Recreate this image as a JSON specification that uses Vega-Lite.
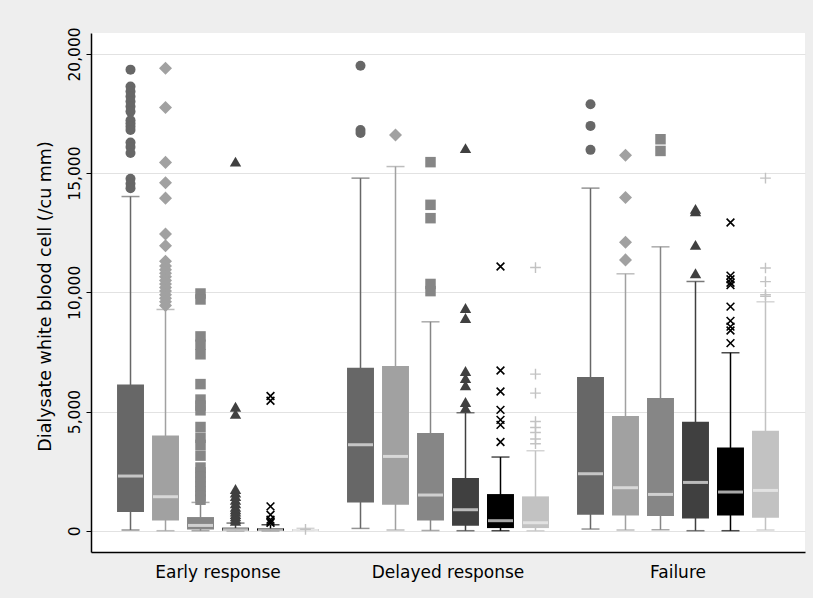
{
  "$schema": "https://vega.github.io/schema/vega-lite/v6.json",
  "width": 714,
  "height": 519,
  "autosize": {"type": "none"},
  "padding": {"left": 91, "top": 33, "right": 8, "bottom": 46},
  "background": "#eeeeee",
  "config": {
    "view": {"fill": "white", "stroke": null},
    "font": "DejaVu Sans",
    "axisY": {
      "labelAngle": -90,
      "labelAlign": "center",
      "labelBaseline": "bottom",
      "labelFontSize": 15.5,
      "labelColor": "black",
      "labelPadding": 4,
      "tickColor": "black",
      "tickSize": 5,
      "tickWidth": 1,
      "domainColor": "black",
      "domainWidth": 1.5,
      "gridColor": "#e2e2e2",
      "gridWidth": 1.2,
      "titleFontSize": 17.5,
      "titleFontWeight": "normal",
      "titleColor": "black",
      "titlePadding": 13,
      "titleY": 263
    }
  },
  "datasets": {
    "boxes": [
      {"group": "Early response", "series": "Day 1", "lower": 30, "q1": 784, "median": 2293, "q3": 6134, "upper": 14017},
      {"group": "Early response", "series": "Day 2", "lower": 0, "q1": 432, "median": 1426, "q3": 3997, "upper": 9280},
      {"group": "Early response", "series": "Day 3", "lower": 0, "q1": 50, "median": 222, "q3": 573, "upper": 1187},
      {"group": "Early response", "series": "Day 4", "lower": 0, "q1": 0, "median": 40, "q3": 130, "upper": 320},
      {"group": "Early response", "series": "Day 5", "lower": 0, "q1": 0, "median": 30, "q3": 100, "upper": 250},
      {"group": "Early response", "series": "Day 6", "lower": 0, "q1": 0, "median": 10, "q3": 60, "upper": 100},
      {"group": "Delayed response", "series": "Day 1", "lower": 96, "q1": 1187, "median": 3606, "q3": 6835, "upper": 14789},
      {"group": "Delayed response", "series": "Day 2", "lower": 30, "q1": 1090, "median": 3116, "q3": 6906, "upper": 15275},
      {"group": "Delayed response", "series": "Day 3", "lower": 10, "q1": 433, "median": 1497, "q3": 4095, "upper": 8763},
      {"group": "Delayed response", "series": "Day 4", "lower": 0, "q1": 210, "median": 880, "q3": 2210, "upper": 4948},
      {"group": "Delayed response", "series": "Day 5", "lower": 0, "q1": 110, "median": 420, "q3": 1537, "upper": 3090},
      {"group": "Delayed response", "series": "Day 6", "lower": 0, "q1": 110, "median": 335, "q3": 1440, "upper": 3354},
      {"group": "Failure", "series": "Day 1", "lower": 70, "q1": 671, "median": 2390, "q3": 6445, "upper": 14370},
      {"group": "Failure", "series": "Day 2", "lower": 30, "q1": 642, "median": 1803, "q3": 4809, "upper": 10776},
      {"group": "Failure", "series": "Day 3", "lower": 40, "q1": 616, "median": 1522, "q3": 5564, "upper": 11908},
      {"group": "Failure", "series": "Day 4", "lower": 0, "q1": 516, "median": 2025, "q3": 4570, "upper": 10454},
      {"group": "Failure", "series": "Day 5", "lower": 0, "q1": 642, "median": 1623, "q3": 3493, "upper": 7464},
      {"group": "Failure", "series": "Day 6", "lower": 30, "q1": 545, "median": 1690, "q3": 4193, "upper": 9602}
    ],
    "outliers": [
      {"group": "Early response", "series": "Day 1", "value": 19340},
      {"group": "Early response", "series": "Day 1", "value": 18630},
      {"group": "Early response", "series": "Day 1", "value": 18420},
      {"group": "Early response", "series": "Day 1", "value": 18210},
      {"group": "Early response", "series": "Day 1", "value": 18000},
      {"group": "Early response", "series": "Day 1", "value": 17790},
      {"group": "Early response", "series": "Day 1", "value": 17580},
      {"group": "Early response", "series": "Day 1", "value": 17220},
      {"group": "Early response", "series": "Day 1", "value": 17080},
      {"group": "Early response", "series": "Day 1", "value": 16940},
      {"group": "Early response", "series": "Day 1", "value": 16810},
      {"group": "Early response", "series": "Day 1", "value": 16280},
      {"group": "Early response", "series": "Day 1", "value": 16090},
      {"group": "Early response", "series": "Day 1", "value": 15840},
      {"group": "Early response", "series": "Day 1", "value": 14760},
      {"group": "Early response", "series": "Day 1", "value": 14550},
      {"group": "Early response", "series": "Day 1", "value": 14370},
      {"group": "Early response", "series": "Day 2", "value": 19400},
      {"group": "Early response", "series": "Day 2", "value": 17750},
      {"group": "Early response", "series": "Day 2", "value": 15450},
      {"group": "Early response", "series": "Day 2", "value": 14600},
      {"group": "Early response", "series": "Day 2", "value": 13950},
      {"group": "Early response", "series": "Day 2", "value": 12450},
      {"group": "Early response", "series": "Day 2", "value": 11950},
      {"group": "Early response", "series": "Day 2", "value": 11300},
      {"group": "Early response", "series": "Day 2", "value": 11100},
      {"group": "Early response", "series": "Day 2", "value": 10950},
      {"group": "Early response", "series": "Day 2", "value": 10800},
      {"group": "Early response", "series": "Day 2", "value": 10650},
      {"group": "Early response", "series": "Day 2", "value": 10500},
      {"group": "Early response", "series": "Day 2", "value": 10350},
      {"group": "Early response", "series": "Day 2", "value": 10200},
      {"group": "Early response", "series": "Day 2", "value": 10050},
      {"group": "Early response", "series": "Day 2", "value": 9900},
      {"group": "Early response", "series": "Day 2", "value": 9750},
      {"group": "Early response", "series": "Day 2", "value": 9600},
      {"group": "Early response", "series": "Day 2", "value": 9450},
      {"group": "Early response", "series": "Day 3", "value": 9950},
      {"group": "Early response", "series": "Day 3", "value": 9700},
      {"group": "Early response", "series": "Day 3", "value": 8150},
      {"group": "Early response", "series": "Day 3", "value": 7800},
      {"group": "Early response", "series": "Day 3", "value": 7400},
      {"group": "Early response", "series": "Day 3", "value": 6150},
      {"group": "Early response", "series": "Day 3", "value": 5500},
      {"group": "Early response", "series": "Day 3", "value": 5250},
      {"group": "Early response", "series": "Day 3", "value": 5050},
      {"group": "Early response", "series": "Day 3", "value": 4350},
      {"group": "Early response", "series": "Day 3", "value": 3900},
      {"group": "Early response", "series": "Day 3", "value": 3600},
      {"group": "Early response", "series": "Day 3", "value": 3150},
      {"group": "Early response", "series": "Day 3", "value": 2650},
      {"group": "Early response", "series": "Day 3", "value": 2450},
      {"group": "Early response", "series": "Day 3", "value": 2250},
      {"group": "Early response", "series": "Day 3", "value": 2050},
      {"group": "Early response", "series": "Day 3", "value": 1850},
      {"group": "Early response", "series": "Day 3", "value": 1650},
      {"group": "Early response", "series": "Day 3", "value": 1450},
      {"group": "Early response", "series": "Day 3", "value": 1300},
      {"group": "Early response", "series": "Day 4", "value": 15480},
      {"group": "Early response", "series": "Day 4", "value": 5200},
      {"group": "Early response", "series": "Day 4", "value": 4900},
      {"group": "Early response", "series": "Day 4", "value": 1750},
      {"group": "Early response", "series": "Day 4", "value": 1600},
      {"group": "Early response", "series": "Day 4", "value": 1450},
      {"group": "Early response", "series": "Day 4", "value": 1300},
      {"group": "Early response", "series": "Day 4", "value": 1150},
      {"group": "Early response", "series": "Day 4", "value": 1000},
      {"group": "Early response", "series": "Day 4", "value": 900},
      {"group": "Early response", "series": "Day 4", "value": 800},
      {"group": "Early response", "series": "Day 4", "value": 700},
      {"group": "Early response", "series": "Day 4", "value": 600},
      {"group": "Early response", "series": "Day 4", "value": 500},
      {"group": "Early response", "series": "Day 4", "value": 420},
      {"group": "Early response", "series": "Day 5", "value": 5650},
      {"group": "Early response", "series": "Day 5", "value": 5450},
      {"group": "Early response", "series": "Day 5", "value": 1020},
      {"group": "Early response", "series": "Day 5", "value": 670},
      {"group": "Early response", "series": "Day 5", "value": 460},
      {"group": "Early response", "series": "Day 5", "value": 380},
      {"group": "Early response", "series": "Day 5", "value": 330},
      {"group": "Early response", "series": "Day 6", "value": 60},
      {"group": "Delayed response", "series": "Day 1", "value": 19500},
      {"group": "Delayed response", "series": "Day 1", "value": 16810},
      {"group": "Delayed response", "series": "Day 1", "value": 16680},
      {"group": "Delayed response", "series": "Day 2", "value": 16600},
      {"group": "Delayed response", "series": "Day 3", "value": 15460},
      {"group": "Delayed response", "series": "Day 3", "value": 13670},
      {"group": "Delayed response", "series": "Day 3", "value": 13110},
      {"group": "Delayed response", "series": "Day 3", "value": 10350},
      {"group": "Delayed response", "series": "Day 3", "value": 10050},
      {"group": "Delayed response", "series": "Day 4", "value": 16050},
      {"group": "Delayed response", "series": "Day 4", "value": 9340},
      {"group": "Delayed response", "series": "Day 4", "value": 8920},
      {"group": "Delayed response", "series": "Day 4", "value": 6700},
      {"group": "Delayed response", "series": "Day 4", "value": 6400},
      {"group": "Delayed response", "series": "Day 4", "value": 6100},
      {"group": "Delayed response", "series": "Day 4", "value": 5400},
      {"group": "Delayed response", "series": "Day 4", "value": 5150},
      {"group": "Delayed response", "series": "Day 5", "value": 11080},
      {"group": "Delayed response", "series": "Day 5", "value": 6720},
      {"group": "Delayed response", "series": "Day 5", "value": 5840},
      {"group": "Delayed response", "series": "Day 5", "value": 5070},
      {"group": "Delayed response", "series": "Day 5", "value": 4650},
      {"group": "Delayed response", "series": "Day 5", "value": 4440},
      {"group": "Delayed response", "series": "Day 5", "value": 3720},
      {"group": "Delayed response", "series": "Day 6", "value": 11040},
      {"group": "Delayed response", "series": "Day 6", "value": 6570},
      {"group": "Delayed response", "series": "Day 6", "value": 5770},
      {"group": "Delayed response", "series": "Day 6", "value": 4580},
      {"group": "Delayed response", "series": "Day 6", "value": 4330},
      {"group": "Delayed response", "series": "Day 6", "value": 4120},
      {"group": "Delayed response", "series": "Day 6", "value": 3850},
      {"group": "Delayed response", "series": "Day 6", "value": 3650},
      {"group": "Failure", "series": "Day 1", "value": 17890},
      {"group": "Failure", "series": "Day 1", "value": 16980},
      {"group": "Failure", "series": "Day 1", "value": 15975},
      {"group": "Failure", "series": "Day 2", "value": 15750},
      {"group": "Failure", "series": "Day 2", "value": 13980},
      {"group": "Failure", "series": "Day 2", "value": 12100},
      {"group": "Failure", "series": "Day 2", "value": 11360},
      {"group": "Failure", "series": "Day 3", "value": 16420},
      {"group": "Failure", "series": "Day 3", "value": 15930},
      {"group": "Failure", "series": "Day 4", "value": 13500},
      {"group": "Failure", "series": "Day 4", "value": 13400},
      {"group": "Failure", "series": "Day 4", "value": 11990},
      {"group": "Failure", "series": "Day 4", "value": 10800},
      {"group": "Failure", "series": "Day 5", "value": 12930},
      {"group": "Failure", "series": "Day 5", "value": 10700},
      {"group": "Failure", "series": "Day 5", "value": 10550},
      {"group": "Failure", "series": "Day 5", "value": 10400},
      {"group": "Failure", "series": "Day 5", "value": 10300},
      {"group": "Failure", "series": "Day 5", "value": 9400},
      {"group": "Failure", "series": "Day 5", "value": 8800},
      {"group": "Failure", "series": "Day 5", "value": 8560},
      {"group": "Failure", "series": "Day 5", "value": 8400},
      {"group": "Failure", "series": "Day 5", "value": 7870},
      {"group": "Failure", "series": "Day 6", "value": 14790},
      {"group": "Failure", "series": "Day 6", "value": 11020},
      {"group": "Failure", "series": "Day 6", "value": 10450},
      {"group": "Failure", "series": "Day 6", "value": 9900},
      {"group": "Failure", "series": "Day 6", "value": 9830}
    ]
  },
  "encoding": {
    "x": {
      "field": "group",
      "type": "nominal",
      "sort": ["Early response", "Delayed response", "Failure"],
      "scale": {"paddingInner": 0.087, "paddingOuter": 0.0957},
      "axis": {
        "title": null,
        "labelAngle": 0,
        "ticks": false,
        "labelFontSize": 17,
        "labelPadding": 12,
        "labelColor": "black",
        "domainColor": "black",
        "domainWidth": 1.5,
        "grid": false
      }
    },
    "xOffset": {
      "field": "series",
      "type": "nominal",
      "sort": ["Day 1", "Day 2", "Day 3", "Day 4", "Day 5", "Day 6"],
      "scale": {"paddingInner": 0.23, "paddingOuter": 0.115}
    },
    "color": {
      "field": "series",
      "type": "nominal",
      "scale": {
        "domain": ["Day 1", "Day 2", "Day 3", "Day 4", "Day 5", "Day 6"],
        "range": ["#676767", "#a1a1a1", "#868686", "#404040", "#000000", "#c2c2c2"]
      },
      "legend": null
    }
  },
  "layer": [
    {
      "data": {"name": "boxes"},
      "mark": {"type": "rule", "strokeWidth": 1.5},
      "encoding": {
        "y": {
          "field": "lower",
          "type": "quantitative",
          "title": "Dialysate white blood cell (/cu mm)",
          "scale": {"domain": [-893, 20877], "nice": false, "zero": false},
          "axis": {"values": [0, 5000, 10000, 15000, 20000], "format": ",d"}
        },
        "y2": {"field": "upper"}
      }
    },
    {
      "data": {"name": "boxes"},
      "mark": {"type": "tick", "size": 18, "thickness": 1.5},
      "encoding": {
        "y": {"field": "lower", "type": "quantitative", "title": "Dialysate white blood cell (/cu mm)"}
      }
    },
    {
      "data": {"name": "boxes"},
      "mark": {"type": "tick", "size": 18, "thickness": 1.5},
      "encoding": {
        "y": {"field": "upper", "type": "quantitative", "title": "Dialysate white blood cell (/cu mm)"}
      }
    },
    {
      "data": {"name": "boxes"},
      "mark": {"type": "bar"},
      "encoding": {
        "y": {"field": "q1", "type": "quantitative", "title": "Dialysate white blood cell (/cu mm)"},
        "y2": {"field": "q3"}
      }
    },
    {
      "data": {"name": "boxes"},
      "mark": {"type": "tick", "size": 25, "thickness": 3},
      "encoding": {
        "y": {"field": "median", "type": "quantitative", "title": "Dialysate white blood cell (/cu mm)"},
        "color": {"value": "#f0f0f0"}
      }
    },
    {
      "data": {"name": "outliers"},
      "transform": [{"filter": "datum.series === 'Day 1'"}],
      "mark": {"type": "point", "filled": true, "opacity": 1, "shape": "circle", "size": 100},
      "encoding": {"y": {"field": "value", "type": "quantitative", "title": "Dialysate white blood cell (/cu mm)"}}
    },
    {
      "data": {"name": "outliers"},
      "transform": [{"filter": "datum.series === 'Day 2'"}],
      "mark": {"type": "point", "filled": true, "opacity": 1, "shape": "diamond", "size": 170},
      "encoding": {"y": {"field": "value", "type": "quantitative", "title": "Dialysate white blood cell (/cu mm)"}}
    },
    {
      "data": {"name": "outliers"},
      "transform": [{"filter": "datum.series === 'Day 3'"}],
      "mark": {"type": "point", "filled": true, "opacity": 1, "shape": "square", "size": 110},
      "encoding": {"y": {"field": "value", "type": "quantitative", "title": "Dialysate white blood cell (/cu mm)"}}
    },
    {
      "data": {"name": "outliers"},
      "transform": [{"filter": "datum.series === 'Day 4'"}],
      "mark": {"type": "point", "filled": true, "opacity": 1, "shape": "triangle-up", "size": 130},
      "encoding": {"y": {"field": "value", "type": "quantitative", "title": "Dialysate white blood cell (/cu mm)"}}
    },
    {
      "data": {"name": "outliers"},
      "transform": [{"filter": "datum.series === 'Day 5'"}],
      "mark": {"type": "point", "filled": false, "opacity": 1, "strokeWidth": 1.6, "shape": "M-1,-1L1,1M-1,1L1,-1", "size": 60},
      "encoding": {"y": {"field": "value", "type": "quantitative", "title": "Dialysate white blood cell (/cu mm)"}}
    },
    {
      "data": {"name": "outliers"},
      "transform": [{"filter": "datum.series === 'Day 6'"}],
      "mark": {"type": "point", "filled": false, "opacity": 1, "strokeWidth": 1.4, "shape": "M-1,0L1,0M0,-1L0,1", "size": 115},
      "encoding": {"y": {"field": "value", "type": "quantitative", "title": "Dialysate white blood cell (/cu mm)"}}
    }
  ]
}
